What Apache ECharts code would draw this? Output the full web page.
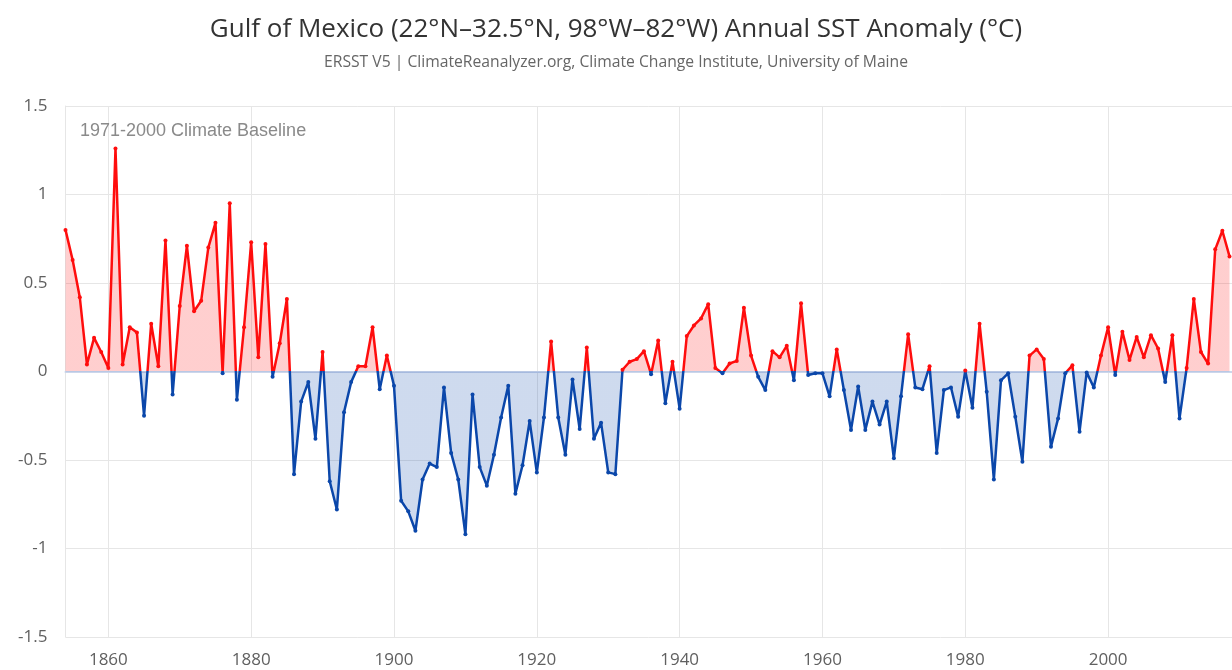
<!DOCTYPE html>
<html>
<head>
<meta charset="utf-8">
<script src="https://cdn.jsdelivr.net/npm/echarts@6/dist/echarts.min.js"></script>
<style>
html,body{margin:0;padding:0;background:#fff;}
#chart{width:1232px;height:670px;}
</style>
</head>
<body>
<div id="chart"></div>
<script>
var titleText = 'Gulf of Mexico (22°N–32.5°N, 98°W–82°W) Annual SST Anomaly (°C)';
var subtitleText = 'ERSST V5 | ClimateReanalyzer.org, Climate Change Institute, University of Maine';
var baselineText = '1971-2000 Climate Baseline';
var startYear = 1854;
var anomalies = [
  0.80, 0.63, 0.42, 0.04, 0.19, 0.11, 0.02, 1.26, 0.04, 0.25,   // 1854-1863
  0.22, -0.25, 0.27, 0.03, 0.74, -0.13, 0.37, 0.71, 0.34, 0.40, // 1864-1873
  0.70, 0.84, -0.01, 0.95, -0.16, 0.25, 0.73, 0.08, 0.72, -0.03, // 1874-1883
  0.16, 0.41, -0.58, -0.17, -0.06, -0.38, 0.11, -0.62, -0.78, -0.23, // 1884-1893
  -0.06, 0.03, 0.03, 0.25, -0.10, 0.09, -0.08, -0.73, -0.79, -0.90, // 1894-1903
  -0.61, -0.52, -0.54, -0.09, -0.46, -0.61, -0.92, -0.13, -0.54, -0.645, // 1904-1913
  -0.47, -0.26, -0.08, -0.69, -0.53, -0.28, -0.57, -0.26, 0.17, -0.26, // 1914-1923
  -0.47, -0.045, -0.325, 0.135, -0.38, -0.29, -0.57, -0.58, 0.01, 0.055, // 1924-1933
  0.07, 0.115, -0.015, 0.175, -0.18, 0.055, -0.21, 0.20, 0.26, 0.30, // 1934-1943
  0.38, 0.02, -0.01, 0.045, 0.06, 0.36, 0.09, -0.03, -0.105, 0.115, // 1944-1953
  0.08, 0.145, -0.05, 0.385, -0.02, -0.01, -0.01, -0.14, 0.125, -0.105, // 1954-1963
  -0.33, -0.085, -0.33, -0.17, -0.30, -0.17, -0.49, -0.14, 0.21, -0.09, // 1964-1973
  -0.10, 0.03, -0.46, -0.105, -0.09, -0.255, 0.005, -0.205, 0.27, -0.115, // 1974-1983
  -0.61, -0.05, -0.01, -0.255, -0.51, 0.09, 0.125, 0.07, -0.425, -0.265, // 1984-1993
  -0.01, 0.035, -0.34, -0.005, -0.09, 0.09, 0.25, -0.02, 0.225, 0.065, // 1994-2003
  0.195, 0.08, 0.205, 0.13, -0.06, 0.205, -0.265, 0.02, 0.41, 0.11, // 2004-2013
  0.045, 0.69, 0.795, 0.65 // 2014-2017
];
var xTickYears = [1860, 1880, 1900, 1920, 1940, 1960, 1980, 2000];
var yMin = -1.5, yMax = 1.5, yStep = 0.5;

var seriesData = anomalies.map(function (v, i) { return [startYear + i, v]; });

var chart = echarts.init(document.getElementById('chart'), null, {renderer: 'canvas'});
var option = {
  animation: false,
  backgroundColor: '#ffffff',
  title: {
    text: titleText,
    subtext: subtitleText,
    left: 'center',
    top: 12,
    itemGap: 12,
    textStyle: {fontFamily: 'Open Sans', fontSize: 26, fontWeight: 'normal', color: '#333333'},
    subtextStyle: {fontFamily: 'Open Sans', fontSize: 15.7, color: '#666666'}
  },
  grid: {left: 65.5, right: 0, top: 106, bottom: 33, containLabel: false},
  xAxis: {
    type: 'value',
    min: startYear,
    max: 2017.35,
    axisLine: {show: true, lineStyle: {color: '#ccd6eb', width: 2}},
    axisTick: {show: false, customValues: xTickYears},
    axisLabel: {
      customValues: xTickYears,
      fontFamily: 'Open Sans', fontSize: 17, color: '#606060', margin: 15,
      formatter: function (v) { return String(v); }
    },
    splitLine: {show: true, lineStyle: {color: '#e6e6e6', width: 1}}
  },
  yAxis: {
    type: 'value',
    min: yMin, max: yMax, interval: yStep,
    axisLine: {show: true, lineStyle: {color: '#e6e6e6', width: 1}},
    axisTick: {show: false},
    axisLabel: {
      fontFamily: 'Open Sans', fontSize: 17, color: '#606060', margin: 18,
      formatter: function (v) { return String(Math.round(v * 10) / 10); }
    },
    splitLine: {show: true, lineStyle: {color: '#e6e6e6', width: 1}}
  },
  visualMap: {
    show: false,
    type: 'piecewise',
    seriesIndex: 0,
    dimension: 1,
    pieces: [
      {gt: 0, lte: 10, color: '#ff0d0d'},
      {gt: -10, lte: 0, color: '#0b47aa'}
    ]
  },
  series: [{
    type: 'line',
    data: seriesData,
    showSymbol: true,
    symbol: 'circle',
    symbolSize: 4,
    lineStyle: {width: 2.5},
    areaStyle: {opacity: 0.2, origin: 0},
    clip: true,
    z: 3
  }],
  graphic: [{
    type: 'text',
    left: 80,
    top: 122,
    style: {text: baselineText, font: '18px "Liberation Sans"', fill: '#8a8a8a'},
    z: 10
  }]
};
chart.setOption(option);
</script>
</body>
</html>
